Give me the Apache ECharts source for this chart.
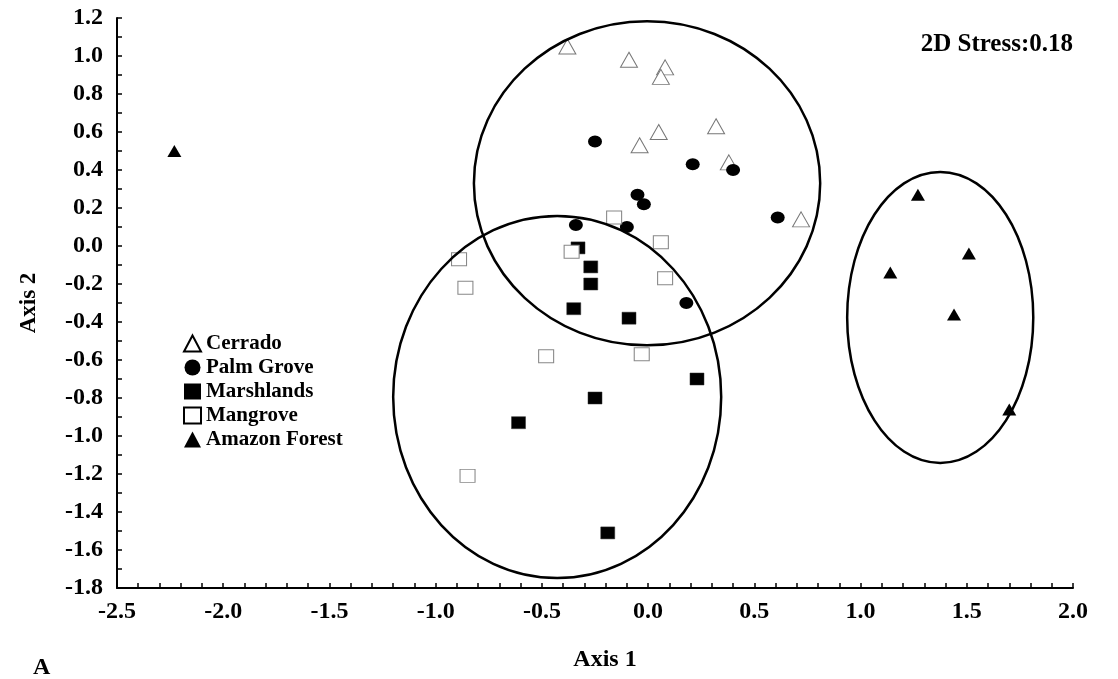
<!DOCTYPE html>
<html>
<head>
<meta charset="utf-8">
<script src="https://cdn.jsdelivr.net/npm/echarts@6/dist/echarts.min.js"></script>
<style>
html,body{margin:0;padding:0;background:#fff;}
#chart{width:1118px;height:679px;}
</style>
</head>
<body>
<div id="chart"></div>
<script>
// ---- data (Axis 1, Axis 2) ----
const cerrado = [[-0.38,1.05],[-0.09,0.98],[0.08,0.94],[0.06,0.89],[0.05,0.60],[-0.04,0.53],[0.32,0.63],[0.38,0.44],[0.72,0.14]];
const palmGrove = [[-0.25,0.55],[0.21,0.43],[0.40,0.40],[-0.05,0.27],[-0.02,0.22],[0.61,0.15],[-0.34,0.11],[-0.10,0.10],[0.18,-0.30]];
const marshlands = [[-0.33,-0.01],[-0.27,-0.11],[-0.27,-0.20],[-0.35,-0.33],[-0.09,-0.38],[0.23,-0.70],[-0.25,-0.80],[-0.61,-0.93],[-0.19,-1.51]];
const mangrove = [[-0.16,0.15],[-0.36,-0.03],[0.06,0.02],[-0.89,-0.07],[-0.86,-0.22],[0.08,-0.17],[-0.48,-0.58],[-0.03,-0.57],[-0.85,-1.21]];
const amazonForest = [[-2.23,0.50],[1.27,0.27],[1.51,-0.04],[1.14,-0.14],[1.44,-0.36],[1.70,-0.86]];
// group ellipses: [centre x, centre y, radius x, radius y] in axis units
const groupEllipses = [[-0.005,0.33,0.815,0.853],[-0.428,-0.795,0.772,0.953],[1.375,-0.376,0.438,0.766]];
const seriesNames = ['Cerrado','Palm Grove','Marshlands','Mangrove','Amazon Forest'];
const xRange = [-2.5, 2.0, 0.5];
const yRange = [-1.8, 1.2, 0.2];
const stressText = '2D Stress:0.18';
const panelLabel = 'A';

const FONT = 'Liberation Serif';
const chart = echarts.init(document.getElementById('chart'), null, {renderer:'canvas'});

const openNames = ['Cerrado','Mangrove'];
const legendData = seriesNames.map(n => openNames.includes(n)
  ? {name:n, itemStyle:{color:'#fff', borderColor:'#000', borderWidth:2}}
  : {name:n, itemStyle:{color:'#000', borderColor:'#000', borderWidth:0}});

const option = {
  backgroundColor: '#fff',
  animation: false,
  grid: {left:117, right:45, top:18, bottom:91, containLabel:false},
  xAxis: {
    type:'value', min:xRange[0], max:xRange[1], interval:xRange[2],
    name:'Axis 1', nameLocation:'middle', nameGap:60,
    nameTextStyle:{fontFamily:FONT, fontWeight:'bold', fontSize:24, color:'#000', padding:[0,0,0,20]},
    axisLine:{show:true, onZero:false, lineStyle:{color:'#000', width:2}},
    axisTick:{show:true, inside:true, length:5, lineStyle:{color:'#000', width:1.5}},
    minorTick:{show:true, splitNumber:5, length:5, lineStyle:{color:'#000', width:1.5}},
    splitLine:{show:false},
    axisLabel:{fontFamily:FONT, fontWeight:'bold', fontSize:24, color:'#000', margin:12,
      formatter: v => v.toFixed(1)}
  },
  yAxis: {
    type:'value', min:yRange[0], max:yRange[1], interval:yRange[2],
    name:'Axis 2', nameLocation:'middle', nameGap:76, nameRotate:90,
    nameTextStyle:{fontFamily:FONT, fontWeight:'bold', fontSize:23, color:'#000'},
    axisLine:{show:true, onZero:false, lineStyle:{color:'#000', width:2}},
    axisTick:{show:true, inside:true, length:5, lineStyle:{color:'#000', width:1.5}},
    minorTick:{show:true, splitNumber:2, length:5, lineStyle:{color:'#000', width:1.5}},
    splitLine:{show:false},
    axisLabel:{fontFamily:FONT, fontWeight:'bold', fontSize:24, color:'#000', margin:14,
      formatter: v => v.toFixed(1)}
  },
  legend: {
    data: legendData, orient:'vertical', left:183, top:333, itemGap:3,
    itemWidth:17, itemHeight:16, padding:0,
    textStyle:{fontFamily:FONT, fontWeight:'bold', fontSize:21, color:'#000'}
  },
  title: [
    {text: stressText, right:45, top:32, padding:0,
     textStyle:{fontFamily:FONT, fontWeight:'bold', fontSize:25, color:'#000'}},
    {text: panelLabel, left:33, top:656, padding:0,
     textStyle:{fontFamily:FONT, fontWeight:'bold', fontSize:24, color:'#000'}}
  ],
  series: [
    {name:'Cerrado', type:'scatter', data:cerrado, symbol:'triangle', symbolSize:[17,15],
     itemStyle:{color:'#fff', borderColor:'#777', borderWidth:1, opacity:1}},
    {name:'Palm Grove', type:'scatter', data:palmGrove, symbol:'circle', symbolSize:[14,12],
     itemStyle:{color:'#000', borderColor:'#000', borderWidth:0, opacity:1}},
    {name:'Marshlands', type:'scatter', data:marshlands, symbol:'rect', symbolSize:[14,12],
     itemStyle:{color:'#000', borderColor:'#333', borderWidth:0.5, opacity:1}},
    {name:'Mangrove', type:'scatter', data:mangrove, symbol:'rect', symbolSize:[15,13],
     itemStyle:{color:'#fff', borderColor:'#888', borderWidth:1, opacity:1}},
    {name:'Amazon Forest', type:'scatter', data:amazonForest, symbol:'triangle', symbolSize:[14,12],
     itemStyle:{color:'#000', borderColor:'#000', borderWidth:0, opacity:1}},
    {name:'groups', type:'custom', data:groupEllipses, silent:true, z:5,
     renderItem: function(params, api){
       const c = api.coord([api.value(0), api.value(1)]);
       const s = api.size([api.value(2), api.value(3)]);
       return {type:'ellipse', shape:{cx:c[0], cy:c[1], rx:s[0], ry:s[1]},
               style:{fill:null, stroke:'#000', lineWidth:2.5}};
     },
     encode:{x:0, y:1}}
  ]
};
chart.setOption(option);
</script>
</body>
</html>
